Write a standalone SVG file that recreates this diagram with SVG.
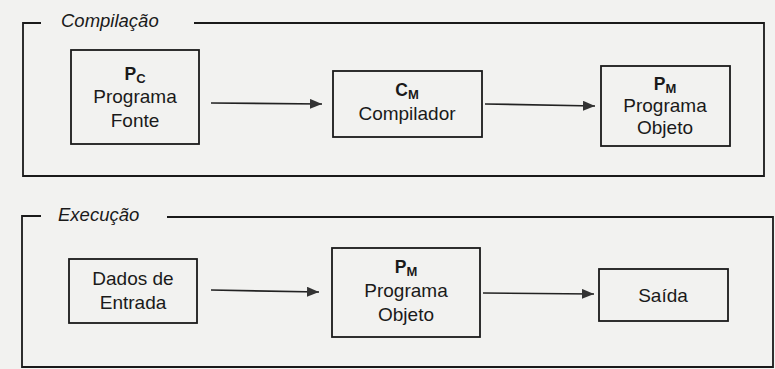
<svg xmlns="http://www.w3.org/2000/svg" width="775" height="369" viewBox="0 0 775 369">
<defs>
<marker id="ah" markerWidth="12" markerHeight="10" refX="12" refY="5" orient="auto" markerUnits="userSpaceOnUse">
<path d="M0,0 L12,5 L0,10 Z" fill="#333"/>
</marker>
<style>
.frame{fill:none;stroke:#1a1a1a;stroke-width:1.8}
.box{fill:none;stroke:#1a1a1a;stroke-width:1.8}
.t{font-family:"Liberation Sans",Arial,sans-serif;font-size:19px;fill:#1a1a1a;text-anchor:middle}
.ttl{font-family:"Liberation Sans",Arial,sans-serif;font-size:18.5px;font-style:italic;fill:#1a1a1a}
.b{font-weight:bold;font-size:17.5px}
.s{font-weight:bold;font-size:13px}
.con{stroke:#222;stroke-width:1.7;fill:none;marker-end:url(#ah)}
</style>
</defs>
<rect width="775" height="369" fill="#f2f2f0"/>
<g id="compilacao">
<path class="frame" d="M41,23 H23 V176 H764 V23 H194"/>
<text class="ttl" x="61" y="27">Compilação</text>
</g>
<g id="execucao">
<path class="frame" d="M41,216 H22 V367 H773 V217 H167"/>
<text class="ttl" x="58" y="221">Execução</text>
</g>
<g id="programa-fonte">
<rect class="box" x="71" y="50" width="128" height="94"/>
<text class="t" x="135" y="80"><tspan class="b">P</tspan><tspan class="s" dy="3">C</tspan></text>
<text class="t" x="135" y="103">Programa</text>
<text class="t" x="135" y="127">Fonte</text>
</g>
<g id="compilador">
<rect class="box" x="333" y="71" width="149" height="66"/>
<text class="t" x="407" y="96"><tspan class="b">C</tspan><tspan class="s" dy="3">M</tspan></text>
<text class="t" x="407" y="120">Compilador</text>
</g>
<g id="programa-objeto-1">
<rect class="box" x="601" y="66" width="129" height="80"/>
<text class="t" x="665" y="90"><tspan class="b">P</tspan><tspan class="s" dy="3">M</tspan></text>
<text class="t" x="665" y="112">Programa</text>
<text class="t" x="665" y="134">Objeto</text>
</g>
<g id="dados-entrada">
<rect class="box" x="69" y="259" width="128" height="64"/>
<text class="t" x="133" y="285">Dados de</text>
<text class="t" x="133" y="309">Entrada</text>
</g>
<g id="programa-objeto-2">
<rect class="box" x="332" y="248" width="148" height="89"/>
<text class="t" x="406" y="273"><tspan class="b">P</tspan><tspan class="s" dy="3">M</tspan></text>
<text class="t" x="406" y="297">Programa</text>
<text class="t" x="406" y="321">Objeto</text>
</g>
<g id="saida">
<rect class="box" x="599" y="269" width="129" height="52"/>
<text class="t" x="663" y="302">Saída</text>
</g>
<g id="connectors">
<line class="con" x1="211" y1="103" x2="322" y2="104"/>
<line class="con" x1="485" y1="104" x2="595" y2="106"/>
<line class="con" x1="211" y1="290" x2="319" y2="292"/>
<line class="con" x1="483" y1="293" x2="594" y2="294"/>
</g>
</svg>
